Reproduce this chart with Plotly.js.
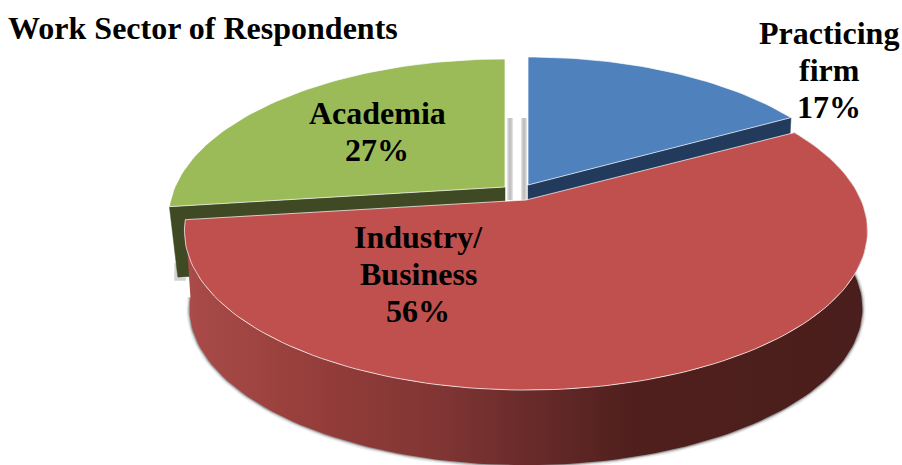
<!DOCTYPE html>
<html>
<head>
<meta charset="utf-8">
<script src="https://cdn.plot.ly/plotly-3.0.1.min.js"></script>
<style>html,body{margin:0;padding:0;background:#fff}</style>
</head>
<body>
<div id="chart" style="width:902px;height:465px"></div>
<script>
// Work sector shares, clockwise from twelve o'clock
const sectors = ['Practicing firm', 'Industry/ Business', 'Academia'];
const shares = [17, 56, 27];
const labelLines = [['Practicing', 'firm'], ['Industry/', 'Business'], ['Academia']];
const topColors = ['#4f81bd', '#c0504d', '#9bbb59'];
const wallColors = ['#223a5c', '#4a1e1c', '#3f4a24'];

// Each slice is pulled away from the centre by its own apex position
const apexX = [528, 526, 505];
const apexY = [185, 200, 187];
const sliceWidth = [0.98, 1, 0.985];
const sliceDepth = [71, 78, 71];
const baseScale = [0.985, 0.985, 0.975];

// Label anchor: centre of the first line, then a fixed line step
const labelX = [829, 418, 377];
const labelY = [33, 237, 113];
const lineStep = 37;

// Tilted disc: perspective projection of the unit circle
const radiusX = 335, radiusY = 153, perspective = 0.195;

function project(i, deg, lowered) {
  const t = deg * Math.PI / 180;
  const u = Math.sin(t), v = Math.cos(t);
  const d = 1 + perspective * v;
  const s = lowered ? baseScale[i] : 1;
  return [
    apexX[i] + s * sliceWidth[i] * radiusX * u / d,
    apexY[i] - s * radiusY * v / d + (lowered ? sliceDepth[i] : 0)
  ];
}

function arc(i, from, to, lowered) {
  const pts = [];
  const n = Math.max(2, Math.ceil(Math.abs(to - from) / 1.5));
  for (let k = 0; k <= n; k++) pts.push(project(i, from + (to - from) * k / n, lowered));
  return pts;
}

function poly(pts, extra) {
  return Object.assign({
    type: 'scatter', mode: 'lines', showlegend: false, hoverinfo: 'skip',
    x: pts.map(p => p[0]), y: pts.map(p => p[1])
  }, extra);
}

// Angular extent of each slice
const bounds = [];
shares.reduce((acc, s) => { bounds.push([acc * 3.6, (acc + s) * 3.6]); return acc + s; }, 0);

const apexPoint = i => [apexX[i], apexY[i]];
const apexBase = i => [apexX[i], apexY[i] + sliceDepth[i]];

const edgeLine = { color: 'rgba(255,255,255,0.7)', width: 1 };

function wedgeTop(i) {
  const pts = [apexPoint(i), ...arc(i, bounds[i][0], bounds[i][1], false), apexPoint(i)];
  return poly(pts, { fill: 'toself', fillcolor: topColors[i], line: edgeLine });
}

// Flat cut faces, visible only where the neighbouring slice does not cover them
function cutWall(i, deg) {
  const pts = [apexPoint(i), project(i, deg, false), project(i, deg, true), apexBase(i), apexPoint(i)];
  return poly(pts, { fill: 'toself', fillcolor: wallColors[i], line: { color: wallColors[i], width: 0.5 } });
}

const red = 1, blue = 0, green = 2;

// Curved side of the large slice, lit from the left
const rimFront = arc(red, bounds[red][0], bounds[red][1], false);
const rimBase = arc(red, bounds[red][1], bounds[red][0], true);
const sideWall = poly([...rimFront, ...rimBase, rimFront[0]], {
  fill: 'toself',
  line: { color: 'rgba(0,0,0,0)', width: 0 },
  fillgradient: {
    type: 'horizontal',
    start: 183, stop: 867,
    colorscale: [
      [0, '#aa4c49'], [0.2, '#943d3a'], [0.38, '#7f3533'],
      [0.52, '#662a29'], [0.66, '#4f1f1d'], [1, '#4a1e1c']
    ]
  }
});

// Soft shadow hugging the outer edge of the base
const rimShadow = [
  { w: 7, a: 0.10 }, { w: 4, a: 0.22 }, { w: 2, a: 0.45 }
].map(s => poly(rimBase, { line: { color: `rgba(90,90,90,${s.a})`, width: s.w } }));

// Shadow in the gap between the two separated slices
const gapShadow = [apexX[green] + 5, apexX[blue] - 4].flatMap(x => [
  poly([[x, 118], [x, apexY[red]]], { line: { color: 'rgba(110,110,110,0.22)', width: 6 } }),
  poly([[x, 118], [x, apexY[red]]], { line: { color: 'rgba(110,110,110,0.28)', width: 3 } })
]);

// Shadow at the foot of the left-hand cut face
const leftBase = project(green, bounds[green][0], true);
const wallShadow = [
  poly([[leftBase[0] - 2, leftBase[1] - 14], [leftBase[0] - 2, leftBase[1] + 2], [leftBase[0] + 8, leftBase[1] + 2]],
    { line: { color: 'rgba(110,110,110,0.3)', width: 3 } })
];

const traces = [
  ...rimShadow,
  ...gapShadow,
  ...wallShadow,
  cutWall(green, bounds[green][0]),
  cutWall(blue, bounds[blue][1]),
  wedgeTop(green),
  wedgeTop(blue),
  sideWall,
  wedgeTop(red)
];

const labelFont = { family: '"Liberation Serif", serif', size: 32, color: '#000' };

// One annotation per line so the line step stays independent of the font size
const annotations = sectors.flatMap((name, i) =>
  [...labelLines[i], shares[i] + '%'].map((line, k) => ({
    xref: 'x', yref: 'y', x: labelX[i], y: labelY[i] + k * lineStep,
    text: '<b>' + line + '</b>',
    showarrow: false, xanchor: 'center', yanchor: 'middle', font: labelFont
  }))
);

const layout = {
  width: 902, height: 465,
  margin: { l: 0, r: 0, t: 0, b: 0 },
  paper_bgcolor: '#fff', plot_bgcolor: '#fff',
  title: {
    text: '<b>Work Sector of Respondents</b>',
    font: { family: '"Liberation Serif", serif', size: 32, color: '#000' },
    x: 0.009, xanchor: 'left', y: 0.94, yanchor: 'middle'
  },
  xaxis: { range: [0, 902], visible: false, fixedrange: true },
  yaxis: { range: [465, 0], visible: false, fixedrange: true },
  annotations
};

Plotly.newPlot('chart', traces, layout, { displayModeBar: false, staticPlot: true });
</script>
</body>
</html>
